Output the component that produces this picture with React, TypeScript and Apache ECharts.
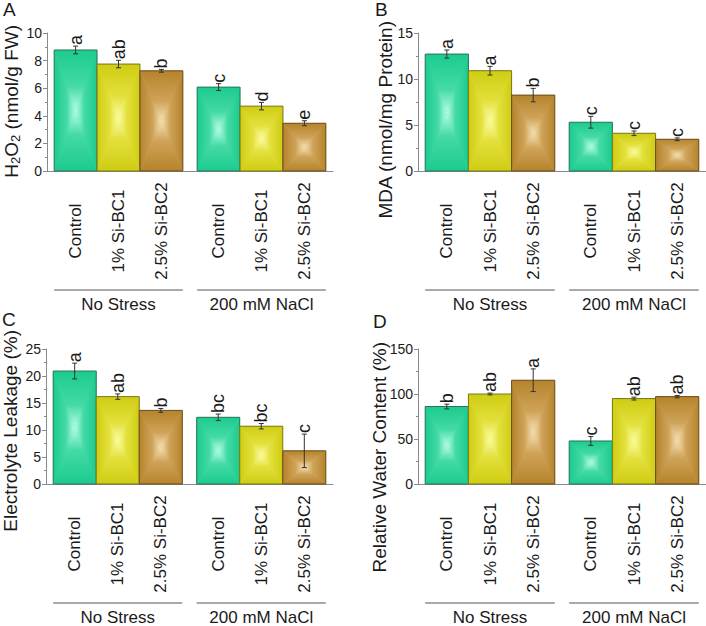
import React, { useEffect, useRef } from 'react';
import * as echarts from 'echarts';

const FONT = '"Liberation Sans", Arial, sans-serif';

const groups = ['No Stress', '200 mM NaCl'];
const treatments = ['Control', '1% Si-BC1', '2.5% Si-BC2'];

// Panel A: H2O2
const h2o2Values = [8.77, 7.75, 7.26, 6.08, 4.7, 3.46];
const h2o2Errors = [0.28, 0.27, 0.1, 0.25, 0.27, 0.18];
const h2o2Letters = ['a', 'ab', 'b', 'c', 'd', 'e'];

// Panel B: MDA
const mdaValues = [12.71, 10.9, 8.25, 5.3, 4.1, 3.45];
const mdaErrors = [0.44, 0.47, 0.73, 0.64, 0.25, 0.15];
const mdaLetters = ['a', 'a', 'b', 'c', 'c', 'c'];

// Panel C: Electrolyte leakage
const elValues = [20.92, 16.18, 13.63, 12.35, 10.7, 6.14];
const elErrors = [1.46, 0.5, 0.36, 0.6, 0.5, 3.1];
const elLetters = ['a', 'ab', 'b', 'bc', 'bc', 'c'];

// Panel D: Relative water content
const rwcValues = [86.1, 100, 115.3, 47.8, 94.9, 97.1];
const rwcErrors = [2.6, 1.0, 12.6, 4.9, 1.6, 1.3];
const rwcLetters = ['b', 'ab', 'a', 'c', 'ab', 'ab'];

const yMax = [10, 15, 25, 150];
const yInterval = [2, 5, 5, 50];

const barColors = [
  { edge: '#1ccb8e', mid: '#44daa6', center: '#b8fee6', stroke: '#2c7457' },
  { edge: '#cfcc12', mid: '#e3e03c', center: '#fdfda2', stroke: '#77761c' },
  { edge: '#b5832b', mid: '#cfa358', center: '#f6e2b6', stroke: '#6b4d1d' },
];

const panels = [
  { values: h2o2Values, errors: h2o2Errors, letters: h2o2Letters },
  { values: mdaValues, errors: mdaErrors, letters: mdaLetters },
  { values: elValues, errors: elErrors, letters: elLetters },
  { values: rwcValues, errors: rwcErrors, letters: rwcLetters },
];

const grids = [
  { left: 47, top: 33, width: 286, height: 138 },
  { left: 418, top: 33, width: 288, height: 138 },
  { left: 46, top: 349, width: 287, height: 137 },
  { left: 418, top: 349, width: 288, height: 137 },
];

const TEXT = '#1a1a1a';
const AXIS = '#8a8a8a';

function makeRenderItem(letters: string[]) {
  return (params: any, api: any) => {
    const g = api.value(0);
    const v = api.value(1);
    const e = api.value(2);
    const t = api.value(3);
    const idx = params.dataIndex;
    const base = api.coord([g, 0]);
    const top = api.coord([g, v]);
    const catW = api.size([1, 0])[0];
    const bandW = catW * 0.9;
    const bw = bandW / 3;
    const x0 = base[0] - bandW / 2 + t * bw;
    const x1 = x0 + bw;
    const y0 = top[1];
    const y1 = base[1];
    const cx = (x0 + x1) / 2;
    const cy = (y0 + y1) / 2;
    const c = barColors[t];
    const grad = (a: number, b: number, a2: number, b2: number) =>
      new echarts.graphic.LinearGradient(a, b, a2, b2, [
        { offset: 0, color: c.edge },
        { offset: 0.6, color: c.mid },
        { offset: 1, color: c.center },
      ]);
    const yHi = api.coord([g, v + e])[1];
    const yLo = api.coord([g, v - e])[1];
    const cap = 2.5;
    const children: any[] = [
      { type: 'rect', shape: { x: x0, y: y0, width: bw, height: y1 - y0 }, style: { fill: c.mid } },
      { type: 'polygon', shape: { points: [[x0, y0], [x0, y1], [cx, cy]] }, style: { fill: grad(0, 0, 1, 0) } },
      { type: 'polygon', shape: { points: [[x1, y0], [x1, y1], [cx, cy]] }, style: { fill: grad(1, 0, 0, 0) } },
      { type: 'polygon', shape: { points: [[x0, y0], [x1, y0], [cx, cy]] }, style: { fill: grad(0, 0, 0, 1) } },
      { type: 'polygon', shape: { points: [[x0, y1], [x1, y1], [cx, cy]] }, style: { fill: grad(0, 1, 0, 0) } },
      {
        type: 'rect',
        shape: { x: x0, y: y0, width: bw, height: y1 - y0 },
        style: { fill: 'none', stroke: c.stroke, lineWidth: 1 },
      },
      { type: 'line', shape: { x1: cx, y1: yHi, x2: cx, y2: yLo }, style: { stroke: '#333', lineWidth: 1 } },
      { type: 'line', shape: { x1: cx - cap, y1: yHi, x2: cx + cap, y2: yHi }, style: { stroke: '#333', lineWidth: 1 } },
      { type: 'line', shape: { x1: cx - cap, y1: yLo, x2: cx + cap, y2: yLo }, style: { stroke: '#333', lineWidth: 1 } },
      {
        type: 'text',
        x: cx,
        y: yHi - 1,
        rotation: Math.PI / 2,
        style: {
          text: letters[idx],
          fill: TEXT,
          fontSize: 18,
          fontFamily: FONT,
          align: 'left',
          verticalAlign: 'middle',
        },
      },
      {
        type: 'text',
        x: cx,
        y: y1 + 60,
        rotation: Math.PI / 2,
        style: {
          text: treatments[t],
          fill: TEXT,
          fontSize: 17,
          fontFamily: FONT,
          align: 'center',
          verticalAlign: 'middle',
        },
      },
    ];
    if (t === 0) {
      children.push({
        type: 'line',
        shape: { x1: x0, y1: y1 + 119, x2: x0 + bandW, y2: y1 + 119 },
        style: { stroke: '#555', lineWidth: 1 },
      });
    }
    return { type: 'group', children };
  };
}

const yTitles = [
  { x: 11, y: 25, text: '{n|H}{s|2}{n|O}{s|2}{n| (nmol/g FW)}' },
  { x: 385, y: 21, text: '{n|MDA (nmol/mg Protein)}' },
  { x: 10, y: 330, text: '{n|Electrolyte Leakage (%)}' },
  { x: 379, y: 342, text: '{n|Relative Water Content (%)}' },
];

const panelLetters = [
  { x: 3, y: 0, text: 'A' },
  { x: 375, y: 0, text: 'B' },
  { x: 2, y: 310, text: 'C' },
  { x: 373, y: 312, text: 'D' },
];

export default function App() {
  const ref = useRef<HTMLDivElement>(null);
  useEffect(() => {
    if (!ref.current) return;
    const chart = echarts.init(ref.current, undefined, { renderer: 'svg' });
    const option: any = {
      animation: false,
      backgroundColor: '#ffffff',
      textStyle: { fontFamily: FONT },
      grid: grids.map((g) => ({ ...g, containLabel: false })),
      xAxis: grids.map((_, i) => ({
        gridIndex: i,
        type: 'category',
        data: groups,
        axisLine: { show: true, lineStyle: { color: AXIS, width: 1 } },
        axisTick: { show: false },
        axisLabel: { margin: 125, fontSize: 17, color: TEXT, fontFamily: FONT },
        splitLine: { show: false },
      })),
      yAxis: grids.map((_, i) => ({
        gridIndex: i,
        type: 'value',
        min: 0,
        max: yMax[i],
        interval: yInterval[i],
        axisLine: { show: true, lineStyle: { color: AXIS, width: 1 } },
        axisTick: { show: true, length: 4, lineStyle: { color: AXIS } },
        minorTick: { show: true, splitNumber: 2, length: 2, lineStyle: { color: AXIS } },
        splitLine: { show: false },
        axisLabel: { fontSize: 14, color: TEXT, margin: 5, fontFamily: FONT },
      })),
      series: panels.map((p, i) => ({
        type: 'custom',
        xAxisIndex: i,
        yAxisIndex: i,
        clip: false,
        encode: { x: 0, y: 1 },
        data: p.values.map((v, k) => [Math.floor(k / 3), v, p.errors[k], k % 3]),
        renderItem: makeRenderItem(p.letters),
      })),
      graphic: [
        ...yTitles.map((t) => ({
          type: 'text',
          x: t.x,
          y: t.y,
          rotation: Math.PI / 2,
          style: {
            text: t.text,
            align: 'right',
            verticalAlign: 'middle',
            fill: TEXT,
            rich: {
              n: { fontSize: 19, fontFamily: FONT, lineHeight: 22, fill: TEXT, color: TEXT },
              s: { fontSize: 13, fontFamily: FONT, lineHeight: 10, verticalAlign: 'bottom', fill: TEXT, color: TEXT },
            },
          },
        })),
        ...panelLetters.map((t) => ({
          type: 'text',
          x: t.x,
          y: t.y,
          style: { text: t.text, fontSize: 19, fontFamily: FONT, fill: TEXT, align: 'left', verticalAlign: 'top' },
        })),
      ],
    };
    chart.setOption(option);
    return () => chart.dispose();
  }, []);
  return (
    <div
      ref={ref}
      style={{ position: 'fixed', left: 0, top: 0, width: 706, height: 626, background: '#fff' }}
    />
  );
}
